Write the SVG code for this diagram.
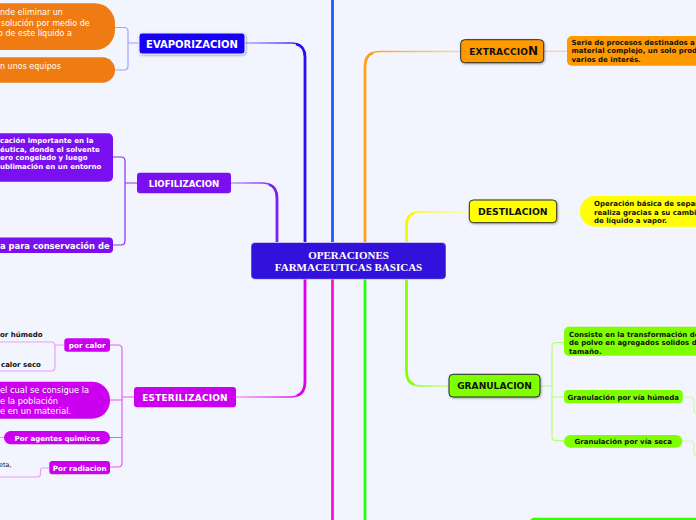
<svg xmlns="http://www.w3.org/2000/svg" width="696" height="520" viewBox="0 0 696 520">
<defs>
  <filter id="sh" x="-10%" y="-20%" width="130%" height="160%">
    <feDropShadow dx="0.8" dy="1" stdDeviation="0.8" flood-color="#000" flood-opacity="0.35"/>
  </filter>
  <linearGradient id="gEva" gradientUnits="userSpaceOnUse" x1="245" y1="0" x2="305" y2="0"><stop offset="0" stop-color="#b4acf8"/><stop offset="1" stop-color="#2a10f0"/></linearGradient>
  <linearGradient id="gLio" gradientUnits="userSpaceOnUse" x1="231" y1="0" x2="277" y2="0"><stop offset="0" stop-color="#c09af5"/><stop offset="1" stop-color="#7d1ff0"/></linearGradient>
  <linearGradient id="gExt" gradientUnits="userSpaceOnUse" x1="460" y1="0" x2="365" y2="0"><stop offset="0" stop-color="#ffd69a"/><stop offset="1" stop-color="#ffa020"/></linearGradient>
  <linearGradient id="gDes" gradientUnits="userSpaceOnUse" x1="469" y1="0" x2="406" y2="0"><stop offset="0" stop-color="#ffffa0"/><stop offset="1" stop-color="#f8f800"/></linearGradient>
  <linearGradient id="gEst" gradientUnits="userSpaceOnUse" x1="236" y1="0" x2="305" y2="0"><stop offset="0" stop-color="#f0a0f8"/><stop offset="1" stop-color="#dd00ee"/></linearGradient>
  <linearGradient id="gGra" gradientUnits="userSpaceOnUse" x1="449" y1="0" x2="406" y2="0"><stop offset="0" stop-color="#c8ff90"/><stop offset="1" stop-color="#88ff00"/></linearGradient>
</defs>
<style>
  .t { font-family: "DejaVu Sans", Verdana, sans-serif; }
  .b { font-weight: bold; }
  .w { fill: #ffffff; }
  .k { fill: #111111; }
  .c { text-anchor: middle; }
  .thin { fill: none; stroke-width: 1.5; }
  .thick { fill: none; stroke-width: 2.8; }
  .br { fill: none; stroke-width: 1.2; }
  .dark { stroke: #2a2a2a; stroke-width: 1; }
</style>
<rect width="696" height="520" fill="#f2f5fe"/>

<g id="connectors">
  <!-- main branches -->
  <path class="thin" stroke="url(#gEva)" d="M305,242 V57 Q305,43 291,43 H245"/>
  <path class="thick" stroke="#2a10f0" d="M305,242 V57 Q305,46 296,44"/>
  <path class="thick" stroke="#1f5bff" d="M332.5,242 V0"/>
  <path class="thin" stroke="url(#gLio)" d="M277,242 V198 Q277,183 262,183 H231"/>
  <path class="thick" stroke="#7d1ff0" d="M277,242 V198 Q277,187 269,184.5"/>
  <path class="thin" stroke="url(#gExt)" d="M365,242 V67 Q365,51.5 380,51.5 H460"/>
  <path class="thick" stroke="#ffa020" d="M365,242 V67 Q365,55 373,52.8"/>
  <path class="thin" stroke="url(#gDes)" d="M406.5,242 V226 Q406.5,212 420,212 H469"/>
  <path class="thick" stroke="#f8f800" d="M406.5,242 V226 Q406.5,215 414,213"/>
  <path class="thin" stroke="url(#gEst)" d="M305,279 V382 Q305,397 290,397 H236"/>
  <path class="thick" stroke="#dd00ee" d="M305,279 V382 Q305,393 297,395.5"/>
  <path class="thick" stroke="#ff10dd" d="M332.5,279 V520"/>
  <path class="thick" stroke="#22ff10" d="M365,279 V520"/>
  <path class="thin" stroke="url(#gGra)" d="M406.5,279 V371 Q406.5,386 421,386 H449"/>
  <path class="thick" stroke="#88ff00" d="M406.5,279 V371 Q406.5,382 414,384.5"/>

  <!-- evaporizacion children -->
  <path class="br" stroke="#a89ff5" d="M115,27.5 H124 Q128,27.5 128,31.5 V66 Q128,70 124,70 H115 M128,43 H139"/>
  <!-- liofilizacion children -->
  <path class="br" stroke="#8a30f0" d="M113,157 H121 Q125,157 125,161 V241 Q125,245 121,245 H113 M125,183 H137"/>
  <!-- esterilizacion children -->
  <path class="br" stroke="#e060f0" d="M110,345 H118 Q122,345 122,349 V463 Q122,467 118,467 H110 M110,400 H122 M110,437.5 H122 M122,397 H134"/>
  <path class="br" stroke="#e8a0f5" d="M0,342 H51 Q55,342 55,346 V367 Q55,371 51,371 H0 M55,345 H64"/>
  <path class="br" stroke="#e8a0f5" d="M0,437.5 H4"/>
  <path class="br" stroke="#e8a0f5" d="M49,468 H43 Q40.5,468 40.5,470.5 V474 Q40.5,477 37.5,477 H0"/>
  <!-- extraccion / destilacion children -->
  <path class="br" stroke="#ffd08a" d="M544,51.3 H567"/>
  <path class="br" stroke="#ffff90" d="M557,211.7 H580"/>
  <!-- granulacion children -->
  <path class="br" stroke="#b8ff70" d="M564,342.7 H556 Q552,342.7 552,346.7 V436.7 Q552,440.7 556,440.7 H564 M552,397 H564 M540,386 H552"/>
  <path class="br" stroke="#c8ff90" d="M683,397 H690 Q694,397 694,401 V410 Q694,414 698,414"/>
  <path class="br" stroke="#c8ff90" d="M682,441 H690 Q694,441 694,445 V452 Q694,456 698,456"/>
</g>

<g id="central">
  <rect x="251" y="242.5" width="195" height="36.8" rx="4" fill="#3311dd" stroke="#ffffff" stroke-opacity="0.6" stroke-width="0.8"/>
  <text x="348.5" y="259" class="c w" font-family="'Liberation Serif', 'Times New Roman', serif" font-weight="bold" font-size="11">OPERACIONES</text>
  <text x="348.5" y="270.5" class="c w" font-family="'Liberation Serif', 'Times New Roman', serif" font-weight="bold" font-size="11">FARMACEUTICAS BASICAS</text>
</g>

<g id="evaporizacion">
  <rect x="139" y="33" width="106" height="21" rx="3" fill="#1500f5" stroke="#e8e8ff" stroke-width="1" filter="url(#sh)"/>
  <text x="192" y="47.5" class="t b w c" font-size="10">EVAPORIZACION</text>
</g>
<g id="evap-def">
  <rect x="-30" y="3.3" width="145" height="46.7" rx="20" fill="#ef7b13"/>
  <text x="0" y="15" class="t w" font-size="8">nde eliminar un</text>
  <text x="1" y="25.5" class="t w" font-size="8">solución por medio de</text>
  <text x="-2" y="36" class="t w" font-size="8">o de este líquido a</text>
</g>
<g id="evap-equipos">
  <rect x="-30" y="57.3" width="145" height="25.4" rx="12.5" fill="#ef7b13"/>
  <text x="0" y="69" class="t w" font-size="8">n unos equipos</text>
</g>

<g id="liofilizacion">
  <rect x="137" y="172.7" width="94" height="20.6" rx="3" fill="#7a0ff0"/>
  <text x="184" y="186.5" class="t b w c" font-size="8.6">LIOFILIZACION</text>
</g>
<g id="liof-def">
  <rect x="-20" y="133.3" width="133" height="48.4" rx="5" fill="#7a0ff0"/>
  <text x="0" y="143" class="t b w" font-size="7">cación importante en la</text>
  <text x="0" y="151.5" class="t b w" font-size="7">éutica, donde el solvente</text>
  <text x="0" y="160.2" class="t b w" font-size="7">ero congelado y luego</text>
  <text x="0" y="168.8" class="t b w" font-size="7">ublimación en un entorno</text>
</g>
<g id="liof-uso">
  <rect x="-20" y="237.5" width="133" height="15.4" rx="4" fill="#7a0ff0"/>
  <text x="0" y="248.8" class="t b w" font-size="8.4">a para conservación de</text>
</g>

<g id="esterilizacion">
  <rect x="134" y="387" width="102" height="20.3" rx="3" fill="#cc00ee"/>
  <text x="185" y="400.8" class="t b w c" font-size="9" letter-spacing="0.2">ESTERILIZACION</text>
</g>
<g id="por-calor">
  <rect x="64.3" y="338.3" width="45.7" height="13.4" rx="3" fill="#cc00ee"/>
  <text x="87.2" y="347.8" class="t b w c" font-size="7.3">por calor</text>
</g>
<g id="calor-humedo">
  <text x="0" y="337" class="t b k" font-size="7">or húmedo</text>
</g>
<g id="calor-seco">
  <text x="1" y="367" class="t b k" font-size="7">calor seco</text>
</g>
<g id="ester-def">
  <rect x="-40" y="381.7" width="150" height="37" rx="18" fill="#cc00ee"/>
  <text x="0" y="393" class="t w" font-size="8.3">el cual se consigue la</text>
  <text x="0" y="403.6" class="t w" font-size="8.3">e la población</text>
  <text x="0" y="414" class="t w" font-size="8.3">e en un material.</text>
</g>
<g id="agentes-quimicos">
  <rect x="4" y="431" width="106" height="13.3" rx="6.6" fill="#cc00ee"/>
  <text x="57.2" y="440.8" class="t b w c" font-size="7">Por agentes quimicos</text>
</g>
<g id="por-radiacion">
  <rect x="49.3" y="461" width="60.7" height="13.3" rx="3" fill="#cc00ee"/>
  <text x="79.7" y="470.8" class="t b w c" font-size="7.2">Por radiacion</text>
</g>
<g id="radiacion-item">
  <text x="-1" y="466.5" class="t k" font-size="6.5">eta,</text>
</g>

<g id="extraccion">
  <rect x="460.7" y="39.7" width="83" height="23" rx="4" fill="#ff9900" class="dark" filter="url(#sh)"/>
  <text x="469.3" y="55.2" class="t b k" font-size="9" letter-spacing="0.15">EXTRACCIO<tspan font-size="12">N</tspan></text>
</g>
<g id="extraccion-def">
  <rect x="567" y="36" width="140" height="29.7" rx="5" fill="#ff9900"/>
  <text x="571.5" y="44.5" class="t b k" font-size="7">Serie de procesos destinados a a</text>
  <text x="571.5" y="53.3" class="t b k" font-size="7">material complejo, un solo prod</text>
  <text x="571.5" y="62" class="t b k" font-size="7">varios de interés.</text>
</g>

<g id="destilacion">
  <rect x="469.3" y="200" width="87.4" height="22.7" rx="4" fill="#ffff00" class="dark" filter="url(#sh)"/>
  <text x="512.8" y="215" class="t b k c" font-size="9.3">DESTILACION</text>
</g>
<g id="destilacion-def">
  <rect x="580" y="196" width="130" height="30.7" rx="15" fill="#ffff00"/>
  <text x="594" y="206.2" class="t b k" font-size="7">Operación básica de separ</text>
  <text x="594" y="214.5" class="t b k" font-size="7">realiza gracias a su cambi</text>
  <text x="594" y="222.7" class="t b k" font-size="7">de líquido a vapor.</text>
</g>

<g id="granulacion">
  <rect x="449" y="374.3" width="91" height="22.7" rx="4" fill="#80ff00" class="dark" filter="url(#sh)"/>
  <text x="494.5" y="389.2" class="t b k c" font-size="9.1">GRANULACION</text>
</g>
<g id="granulacion-def">
  <rect x="564" y="326.7" width="140" height="29" rx="5" fill="#80ff00"/>
  <text x="569" y="336.7" class="t b k" font-size="7">Consiste en la transformación de</text>
  <text x="569" y="345.2" class="t b k" font-size="7">de polvo en agregados solidos de</text>
  <text x="569" y="353.8" class="t b k" font-size="7">tamaño.</text>
</g>
<g id="via-humeda">
  <rect x="564" y="390" width="118.7" height="13.3" rx="4" fill="#80ff00"/>
  <text x="623.3" y="400" class="t b k c" font-size="7">Granulación por vía húmeda</text>
</g>
<g id="via-seca">
  <rect x="564" y="435" width="118.3" height="12.7" rx="6.3" fill="#80ff00"/>
  <text x="623.3" y="444" class="t b k c" font-size="7">Granulación por vía seca</text>
</g>

<g id="bottom-node">
  <rect x="529.5" y="517.7" width="180" height="20" rx="5" fill="#33ff00"/>
</g>
</svg>
